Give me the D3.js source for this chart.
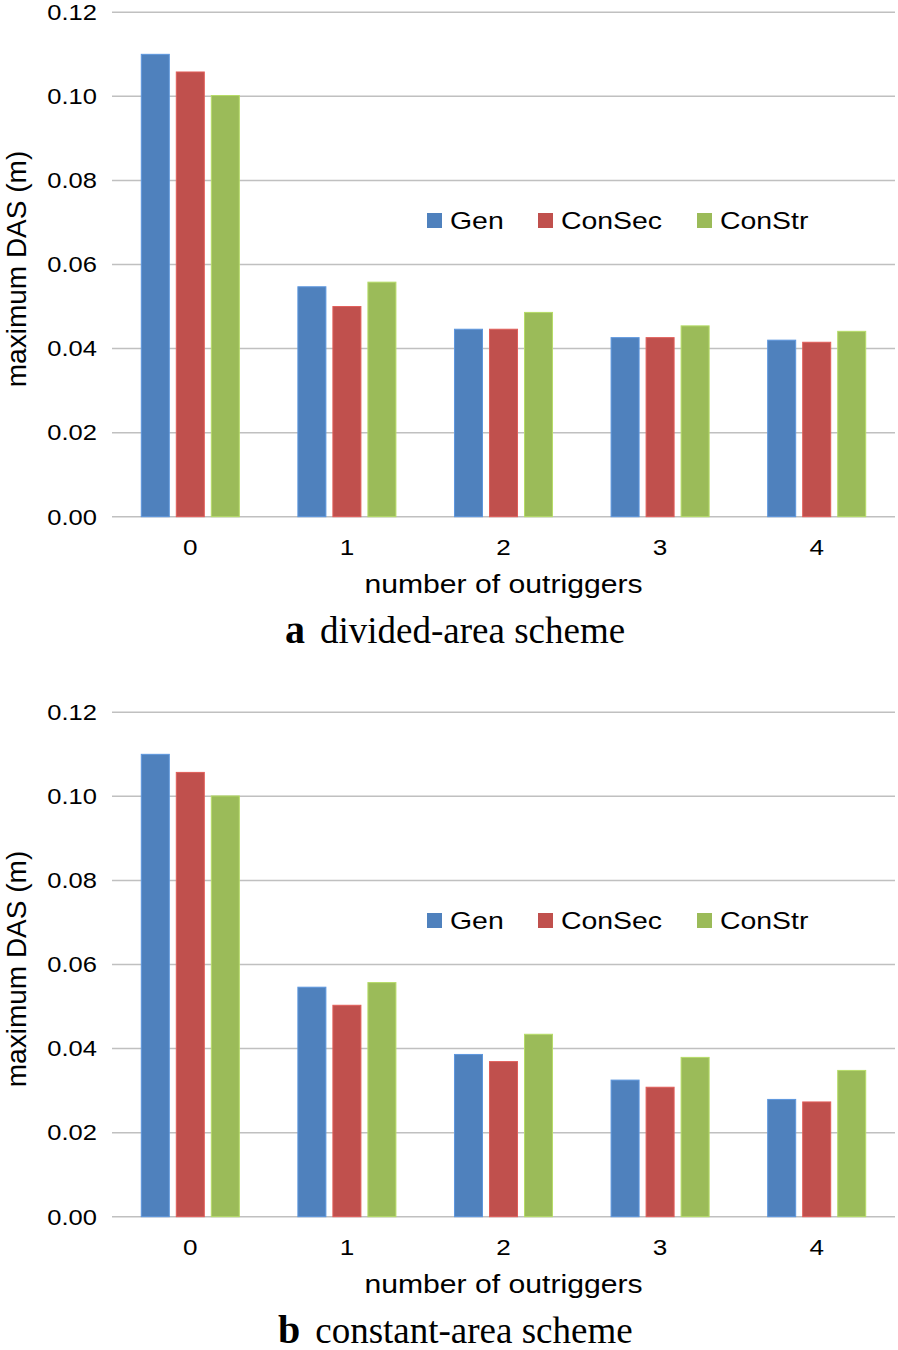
<!DOCTYPE html>
<html>
<head>
<meta charset="utf-8">
<script src="https://cdn.jsdelivr.net/npm/d3@7/dist/d3.min.js"></script>
<style>
  html, body { margin: 0; padding: 0; background: #ffffff; }
  svg { display: block; }
</style>
</head>
<body>
<svg id="chart" width="898" height="1350"></svg>
<script>
// ---- data ----
const categories = ["0", "1", "2", "3", "4"];
const seriesNames = ["Gen", "ConSec", "ConStr"];
const seriesColors = ["#4f81bd", "#c0504d", "#9bbb59"];
const yTickValues = [0, 0.02, 0.04, 0.06, 0.08, 0.10, 0.12];

// (a) divided-area scheme
const genA    = [0.1100, 0.0547, 0.0446, 0.0426, 0.0420];
const conSecA = [0.1058, 0.0500, 0.0446, 0.0426, 0.0415];
const conStrA = [0.1002, 0.0558, 0.0486, 0.0454, 0.0441];

// (b) constant-area scheme
const genB    = [0.1100, 0.0546, 0.0386, 0.0325, 0.0279];
const conSecB = [0.1057, 0.0503, 0.0369, 0.0308, 0.0273];
const conStrB = [0.1001, 0.0557, 0.0434, 0.0379, 0.0348];

const xAxisTitle = "number of outriggers";
const yAxisTitle = "maximum DAS (m)";
const panels = [
  { letter: "a", caption: "divided-area scheme", series: [genA, conSecA, conStrA] },
  { letter: "b", caption: "constant-area scheme", series: [genB, conSecB, conStrB] }
];

// ---- layout ----
const svg = d3.select("#chart");
const SX = 1.16; // horizontal stretch of the original picture's text
const plotLeft = 112, plotRight = 895;

function drawPanel(panel, offsetY) {
  const g = svg.append("g").attr("transform", `translate(0,${offsetY})`);
  const top = 12.3, bottom = 516.7;

  const y = d3.scaleLinear().domain([0, 0.12]).range([bottom, top]);
  const x0 = d3.scaleBand().domain(categories).range([plotLeft, plotRight])
    .paddingInner(0.374).paddingOuter(0.187);
  const x1 = d3.scaleBand().domain(seriesNames).range([0, x0.bandwidth()])
    .paddingInner(0.2);

  // gridlines
  g.append("g").selectAll("line").data(yTickValues).join("line")
    .attr("x1", plotLeft).attr("x2", plotRight)
    .attr("y1", d => y(d)).attr("y2", d => y(d))
    .attr("stroke", "#c0c0c0").attr("stroke-width", 1.5);

  // y tick labels
  g.append("g").selectAll("text").data(yTickValues).join("text")
    .attr("transform", d => `translate(97,${y(d) + 7.8}) scale(${SX},1)`)
    .attr("text-anchor", "end")
    .attr("font-family", "Liberation Sans, Arial, sans-serif")
    .attr("font-size", 22)
    .attr("fill", "#000")
    .text(d => d3.format(".2f")(d));

  // bars
  const groups = g.append("g").selectAll("g").data(categories).join("g")
    .attr("transform", d => `translate(${x0(d)},0)`);
  groups.selectAll("rect")
    .data((c, i) => seriesNames.map((s, k) => ({ s, k, v: panel.series[k][i] })))
    .join("rect")
    .attr("x", d => x1(d.s))
    .attr("width", x1.bandwidth())
    .attr("y", d => y(d.v))
    .attr("height", d => y(0) - y(d.v))
    .attr("fill", d => seriesColors[d.k])
    .attr("stroke", d => d3.color(seriesColors[d.k]).brighter(0.45))
    .attr("stroke-width", 1);

  // x tick labels
  g.append("g").selectAll("text").data(categories).join("text")
    .attr("transform", d => `translate(${x0(d) + x0.bandwidth() / 2},${555}) scale(${SX},1)`)
    .attr("text-anchor", "middle")
    .attr("font-family", "Liberation Sans, Arial, sans-serif")
    .attr("font-size", 22.5)
    .attr("fill", "#000")
    .text(d => d);

  // x axis title
  g.append("text")
    .attr("transform", `translate(${(plotLeft + plotRight) / 2},${593}) scale(${SX},1)`)
    .attr("text-anchor", "middle")
    .attr("font-family", "Liberation Sans, Arial, sans-serif")
    .attr("font-size", 26)
    .attr("fill", "#000")
    .text(xAxisTitle);

  // y axis title
  g.append("text")
    .attr("transform", `translate(26,${269}) rotate(-90)`)
    .attr("text-anchor", "middle")
    .attr("font-family", "Liberation Sans, Arial, sans-serif")
    .attr("font-size", 28)
    .attr("fill", "#000")
    .text(yAxisTitle);

  // legend
  const legendX = [427, 538, 697];
  const lg = g.append("g").selectAll("g").data(seriesNames).join("g")
    .attr("transform", (d, i) => `translate(${legendX[i]},213)`);
  lg.append("rect").attr("width", 15).attr("height", 15)
    .attr("fill", (d, i) => seriesColors[i]);
  lg.append("text")
    .attr("transform", `translate(23,16) scale(${SX},1)`)
    .attr("font-family", "Liberation Sans, Arial, sans-serif")
    .attr("font-size", 24.5)
    .attr("fill", "#000")
    .text(d => d);

  // caption
  const cap = g.append("text")
    .attr("transform", `translate(${panel.letter === "a" ? 285 : 278},${642.5})`)
    .attr("font-family", "Liberation Serif, Times New Roman, serif")
    .attr("fill", "#000");
  cap.append("tspan").attr("font-weight", "bold").attr("font-size", 40).text(panel.letter);
  cap.append("tspan").attr("dx", 15).attr("font-size", 37).text(panel.caption);
}

drawPanel(panels[0], 0);
drawPanel(panels[1], 700);
</script>
</body>
</html>
